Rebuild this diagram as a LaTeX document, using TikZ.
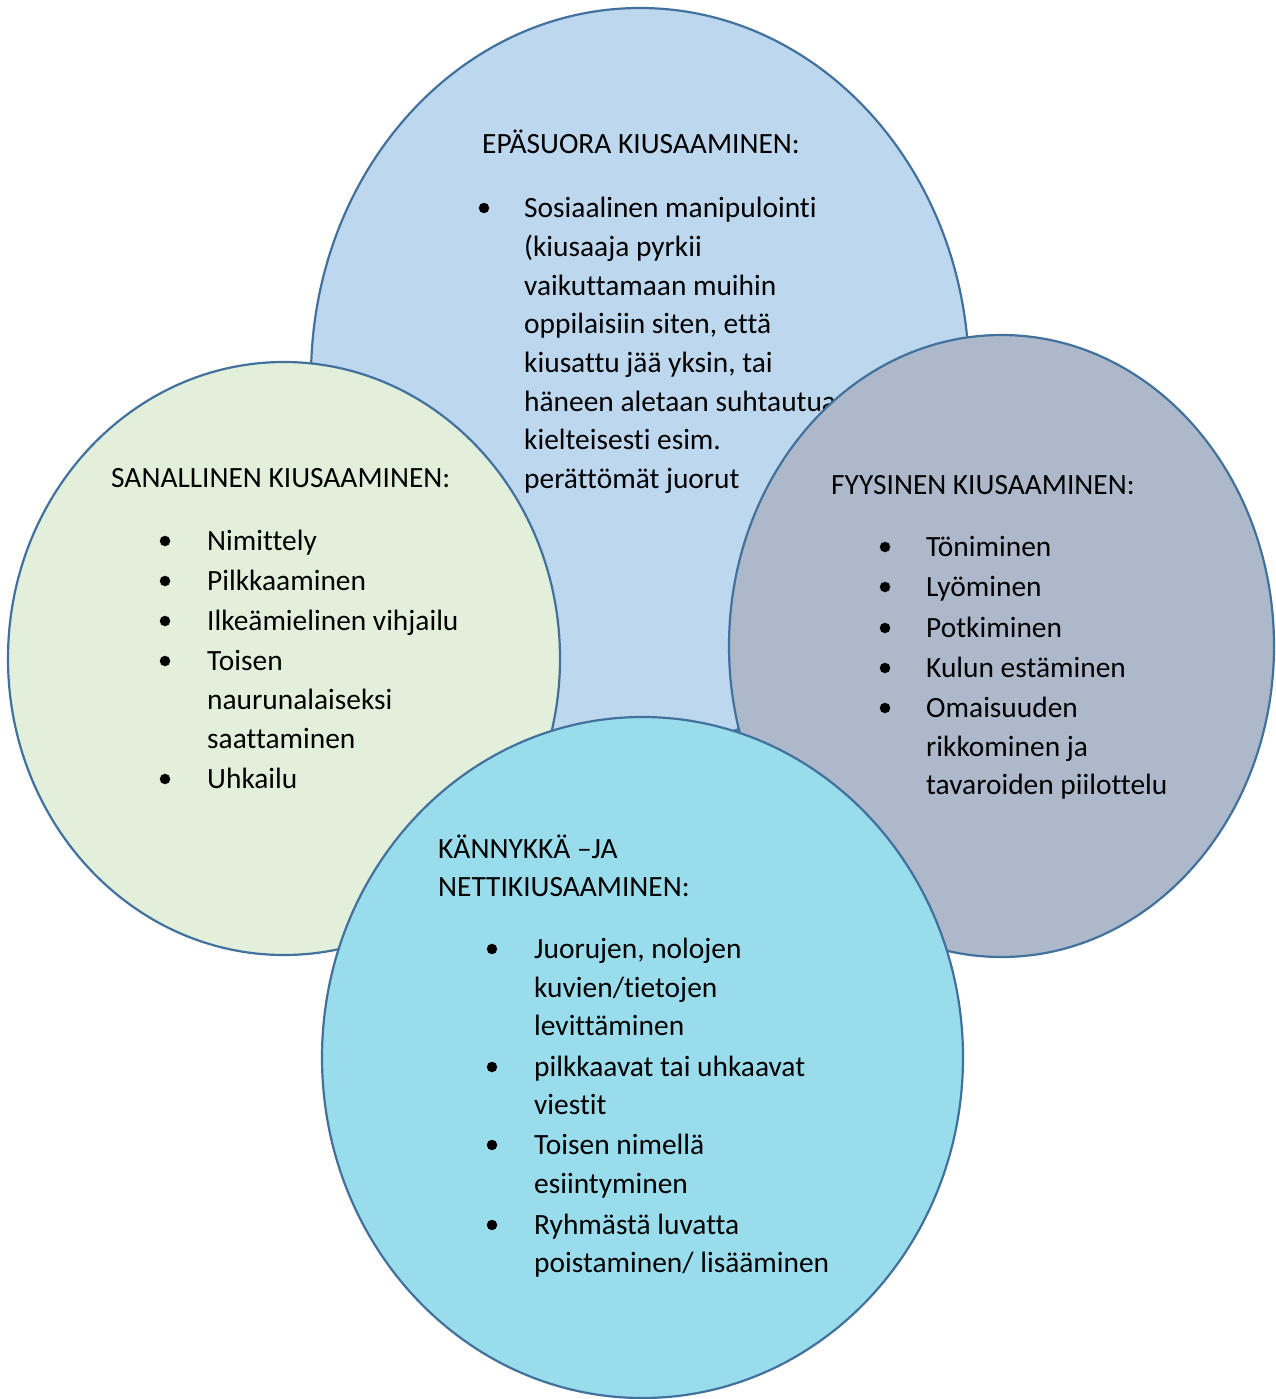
\documentclass[tikz,border=0pt]{standalone}
\usepackage{fontspec}
\setmainfont{Carlito}[Ligatures={NoCommon,NoContextual}]
\usetikzlibrary{shapes.geometric}
\definecolor{cTop}{HTML}{BDD7EE}
\definecolor{cLeft}{HTML}{E2EFDA}
\definecolor{cRight}{HTML}{ADB9CA}
\definecolor{cBot}{HTML}{99DCEC}
\definecolor{cEdge}{HTML}{41719C}
\begin{document}
\begin{tikzpicture}[x=1pt,y=-1pt,
  blob/.style={ellipse, draw=cEdge, line width=2.2pt, inner sep=0pt},
  txt/.style={anchor=base west, inner sep=0pt, font=\fontsize{29.4}{35}\selectfont},
  bul/.style={circle, fill=black, inner sep=0pt, minimum size=10.5pt}]
\useasboundingbox (0,0) rectangle (1275,1399);

% top ellipse
\node[blob, fill=cTop, minimum width=658pt, minimum height=738pt] (top) at (640,377) {};
\node[txt] (t0) at (482,154) {EPÄSUORA KIUSAAMINEN:};
\node[bul] (tb1) at (484,208) {};
\node[txt] (t1) at (524,217) {Sosiaalinen manipulointi};
\node[txt] (t2) at (524,256) {(kiusaaja pyrkii};
\node[txt] (t3) at (524,295) {vaikuttamaan muihin};
\node[txt] (t4) at (524,333) {oppilaisiin siten, että};
\node[txt] (t5) at (524,372) {kiusattu jää yksin, tai};
\node[txt] (t6) at (524,411) {häneen aletaan suhtautua};
\node[txt] (t7) at (524,449) {kielteisesti esim.};
\node[txt] (t8) at (524,488) {perättömät juorut};

% left ellipse
\node[blob, fill=cLeft, minimum width=552pt, minimum height=593pt] (left) at (284,658.5) {};
\node[txt] (l0) at (111,487) {SANALLINEN KIUSAAMINEN:};
\node[bul] (lb1) at (165,541) {};
\node[txt] (l1) at (207,550) {Nimittely};
\node[bul] (lb2) at (165,581) {};
\node[txt] (l2) at (207,590) {Pilkkaaminen};
\node[bul] (lb3) at (165,621) {};
\node[txt] (l3) at (207,630) {Ilkeämielinen vihjailu};
\node[bul] (lb4) at (165,661) {};
\node[txt] (l4) at (207,670) {Toisen};
\node[txt] (l5) at (207,709) {naurunalaiseksi};
\node[txt] (l6) at (207,748) {saattaminen};
\node[bul] (lb7) at (165,779) {};
\node[txt] (l7) at (207,788) {Uhkailu};

% right ellipse
\node[blob, fill=cRight, minimum width=545pt, minimum height=622pt] (right) at (1001.5,646) {};
\node[txt] (r0) at (831,494) {FYYSINEN KIUSAAMINEN:};
\node[bul] (rb1) at (885,547) {};
\node[txt] (r1) at (926,556) {Töniminen};
\node[bul] (rb2) at (885,587) {};
\node[txt] (r2) at (926,596) {Lyöminen};
\node[bul] (rb3) at (885,628) {};
\node[txt] (r3) at (926,637) {Potkiminen};
\node[bul] (rb4) at (885,668) {};
\node[txt] (r4) at (926,677) {Kulun estäminen};
\node[bul] (rb5) at (885,708) {};
\node[txt] (r5) at (926,717) {Omaisuuden};
\node[txt] (r6) at (926,756) {rikkominen ja};
\node[txt] (r7) at (926,794) {tavaroiden piilottelu};

% bottom ellipse
\node[blob, fill=cBot, minimum width=641pt, minimum height=681pt] (bot) at (642.5,1057.5) {};
\node[txt] (b0) at (438,858) {KÄNNYKKÄ –JA};
\node[txt] (b00) at (438,896) {NETTIKIUSAAMINEN:};
\node[bul] (bb1) at (492,949) {};
\node[txt] (b1) at (534,958) {Juorujen, nolojen};
\node[txt] (b2) at (534,997) {kuvien/tietojen};
\node[txt] (b3) at (534,1035) {levittäminen};
\node[bul] (bb4) at (492,1067) {};
\node[txt] (b4) at (534,1076) {pilkkaavat tai uhkaavat};
\node[txt] (b5) at (534,1114) {viestit};
\node[bul] (bb6) at (492,1145) {};
\node[txt] (b6) at (534,1154) {Toisen nimellä};
\node[txt] (b7) at (534,1193) {esiintyminen};
\node[bul] (bb8) at (492,1225) {};
\node[txt] (b8) at (534,1234) {Ryhmästä luvatta};
\node[txt] (b9) at (534,1272) {poistaminen/ lisääminen};
\end{tikzpicture}
\end{document}
